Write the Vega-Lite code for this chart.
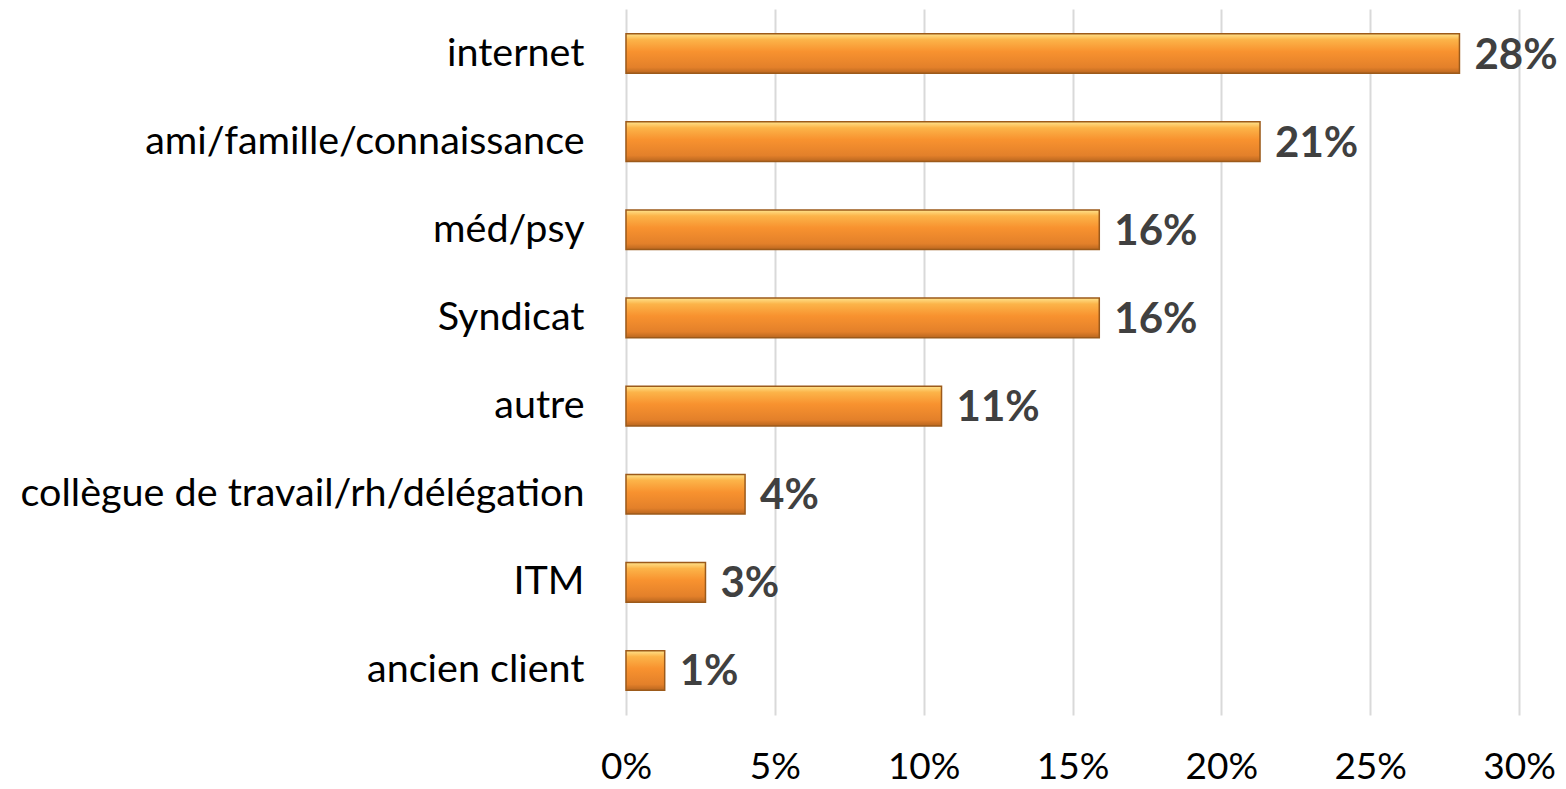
{
  "$schema": "https://vega.github.io/schema/vega-lite/v6.json",
  "width": 893,
  "height": 706,
  "autosize": {"type": "none"},
  "padding": {"left": 626, "top": 9, "right": 47, "bottom": 74},
  "background": "white",
  "data": {"values": [
    {"cat": "internet", "v": 0.28, "lab": "28%"},
    {"cat": "ami/famille/connaissance", "v": 0.213, "lab": "21%"},
    {"cat": "méd/psy", "v": 0.159, "lab": "16%"},
    {"cat": "Syndicat", "v": 0.159, "lab": "16%"},
    {"cat": "autre", "v": 0.106, "lab": "11%"},
    {"cat": "collègue de travail/rh/délégation", "v": 0.04, "lab": "4%"},
    {"cat": "ITM", "v": 0.0267, "lab": "3%"},
    {"cat": "ancien client", "v": 0.013, "lab": "1%"}
  ]},
  "encoding": {
    "y": {"field": "cat", "type": "nominal", "sort": null,
      "scale": {"paddingInner": 0.55, "paddingOuter": 0.28},
      "axis": {"title": null, "domain": false, "ticks": false, "labelPadding": 42,
        "labelFont": "Lato", "labelFontSize": 39.5, "labelColor": "#000000", "labelLimit": 700}},
    "x": {"field": "v", "type": "quantitative",
      "scale": {"domain": [0, 0.3], "nice": false},
      "axis": {"title": null, "format": ".0%", "values": [0, 0.05, 0.1, 0.15, 0.2, 0.25, 0.3],
        "domain": false, "ticks": false, "labelPadding": 34, "labelFlush": false, "labelFont": "Lato",
        "labelFontSize": 37, "labelColor": "#000000", "gridColor": "#D9D9D9", "gridWidth": 2}}
  },
  "layer": [
    {"mark": {"type": "bar", "stroke": "#9C5A1A", "strokeWidth": 1.5,
      "color": {"gradient": "linear", "x1": 0, "y1": 0, "x2": 0, "y2": 1,
        "stops": [
          {"offset": 0, "color": "#FFE38C"},
          {"offset": 0.15, "color": "#FCB449"},
          {"offset": 0.45, "color": "#F8922F"},
          {"offset": 0.85, "color": "#E3802A"},
          {"offset": 1, "color": "#B9661F"}
        ]}}},
    {"mark": {"type": "text", "align": "left", "baseline": "middle", "dx": 15, "dy": 2,
      "font": "Lato", "fontWeight": "bold", "fontSize": 42, "color": "#404040"},
     "encoding": {"text": {"field": "lab"}}}
  ],
  "config": {"view": {"stroke": null}}
}
